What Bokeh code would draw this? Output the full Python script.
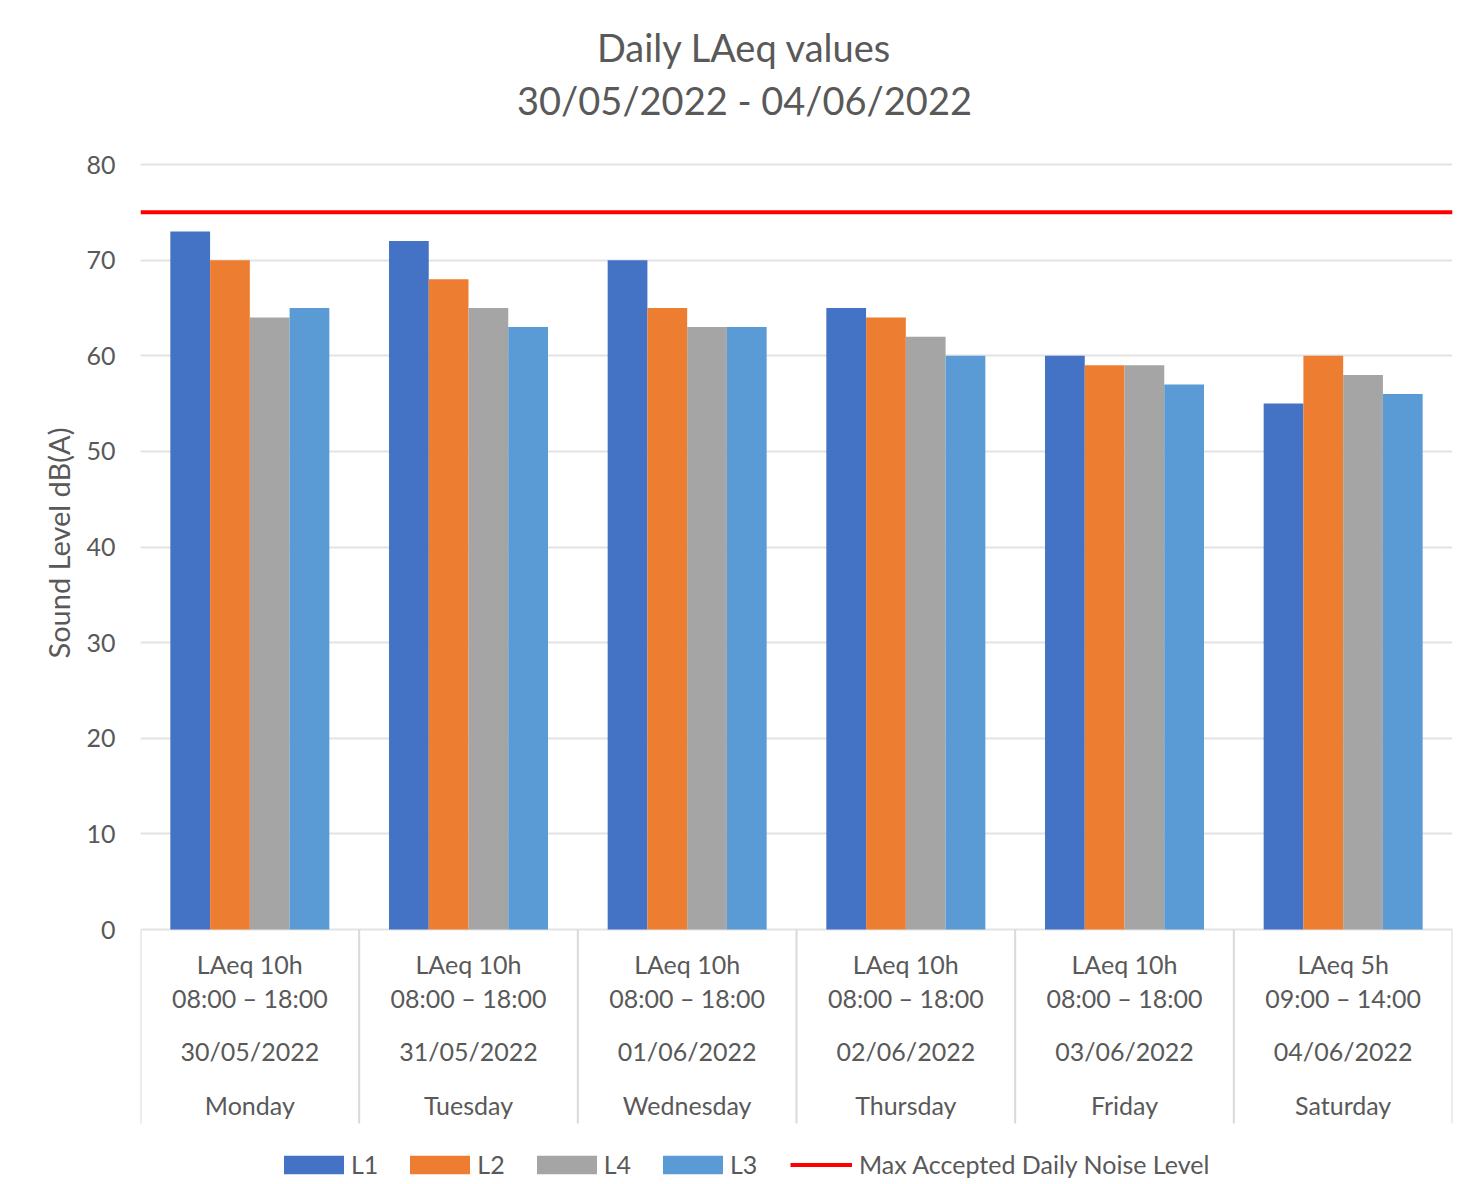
import numpy as np
from bokeh.plotting import figure
from bokeh.models import Range1d, FixedTicker, Legend, LegendItem, Title
from bokeh.core.properties import value
from bokeh.embed import file_html
from bokeh.resources import INLINE

# ---------------- data ----------------
days = ["Monday", "Tuesday", "Wednesday", "Thursday", "Friday", "Saturday"]
periods = ["LAeq 10h", "LAeq 10h", "LAeq 10h", "LAeq 10h", "LAeq 10h", "LAeq 5h"]
times = ["08:00 – 18:00", "08:00 – 18:00", "08:00 – 18:00", "08:00 – 18:00",
         "08:00 – 18:00", "09:00 – 14:00"]
dates = ["30/05/2022", "31/05/2022", "01/06/2022", "02/06/2022", "03/06/2022", "04/06/2022"]
series_names = ["L1", "L2", "L4", "L3"]
L1 = [73, 72, 70, 65, 60, 55]
L2 = [70, 68, 65, 64, 59, 60]
L4 = [64, 65, 63, 62, 59, 58]
L3 = [65, 63, 63, 60, 57, 56]
max_level = 75
y_ticks = [0, 10, 20, 30, 40, 50, 60, 70, 80]
title_lines = ["Daily LAeq values", "30/05/2022 - 04/06/2022"]
y_label = "Sound Level dB(A)"
max_label = "Max Accepted Daily Noise Level"

# ---------------- style / layout ----------------
FONT = "Lato"
TXT = "#595959"
colors = ["#4472C4", "#ED7D31", "#A5A5A5", "#5B9BD5"]
W, H = 1460, 1184
LEFT, RIGHT = 140, 8
frame_h = H
px_per_unit = 9.5625
zero_px = 929          # pixel row of y=0 from the top of the frame
y_top = zero_px / px_per_unit
y_bot = -(frame_h - zero_px) / px_per_unit
sep_bottom = -194 / px_per_unit
bar_w = 0.1818

p = figure(width=W, height=H, output_backend="svg", toolbar_location=None,
           x_range=Range1d(0, len(days)), y_range=Range1d(y_bot, y_top),
           x_axis_location=None, min_border_left=LEFT, min_border_right=RIGHT,
           min_border_top=0, min_border_bottom=0, title=None)
p.outline_line_color = None
p.background_fill_color = "white"
p.border_fill_color = "white"
p.xgrid.visible = False
p.ygrid.ticker = FixedTicker(ticks=y_ticks)
p.ygrid.grid_line_color = "#e3e3e3"
p.ygrid.grid_line_width = 2

yax = p.yaxis[0]
yax.ticker = FixedTicker(ticks=y_ticks)
yax.axis_line_color = None
yax.major_tick_line_color = None
yax.minor_tick_line_color = None
yax.major_label_text_font = FONT
yax.major_label_text_font_size = "25px"
yax.major_label_text_color = TXT
yax.major_label_standoff = 19

# y axis title as a side title, shifted up so it is centred on the 0-80 span
p.add_layout(Title(text=y_label, align="left", offset=526, standoff=16,
                   text_font=FONT, text_font_size="29px", text_font_style="normal",
                   text_color=TXT), "left")

centers = np.arange(len(days)) + 0.5
all_series = [L1, L2, L4, L3]
renderers = []
for i, (vals, col) in enumerate(zip(all_series, colors)):
    r = p.vbar(x=centers + (i - 1.5) * bar_w, top=vals, bottom=0, width=bar_w,
               fill_color=col, line_color=None)
    renderers.append(r)

line_r = p.line(x=[0, len(days)], y=[max_level, max_level], line_color="#FF0000", line_width=4)

# category separators
bounds = np.arange(len(days) + 1)
p.segment(x0=bounds, y0=[0] * len(bounds), x1=bounds, y1=[sep_bottom] * len(bounds),
          line_color="#d9d9d9", line_width=2)

# category labels
for labels, off in zip([periods, times, dates, days], [34, 68, 121, 175]):
    p.text(x=centers, y=[0] * len(days), text=labels, y_offset=off,
           text_align="center", text_baseline="middle", text_font=value(FONT),
           text_font_size="25px", text_color=TXT)

# title
for t, off in zip(title_lines, [-118, -65]):
    p.text(x=[len(days) / 2], y=[y_ticks[-1]], text=[t], x_offset=-52, y_offset=off,
           text_align="center", text_baseline="middle", text_font=value(FONT),
           text_font_size="38px", text_color=TXT)

common = dict(orientation="horizontal", padding=0, margin=0, border_line_color=None,
              background_fill_alpha=0, label_text_font=FONT, label_text_font_size="25px",
              label_text_color=TXT)
bar_items = [LegendItem(label=n, renderers=[r]) for n, r in zip(series_names, renderers)]
legend_bars = Legend(items=bar_items, location=(136, 5), glyph_width=75, glyph_height=23,
                     label_standoff=0, spacing=24, **common)
legend_line = Legend(items=[LegendItem(label=max_label, renderers=[line_r])], location=(650, 5),
                     glyph_width=62, glyph_height=23, label_standoff=7, **common)
p.add_layout(legend_bars, "center")
p.add_layout(legend_line, "center")

open("out.html", "w").write(file_html(p, INLINE))
